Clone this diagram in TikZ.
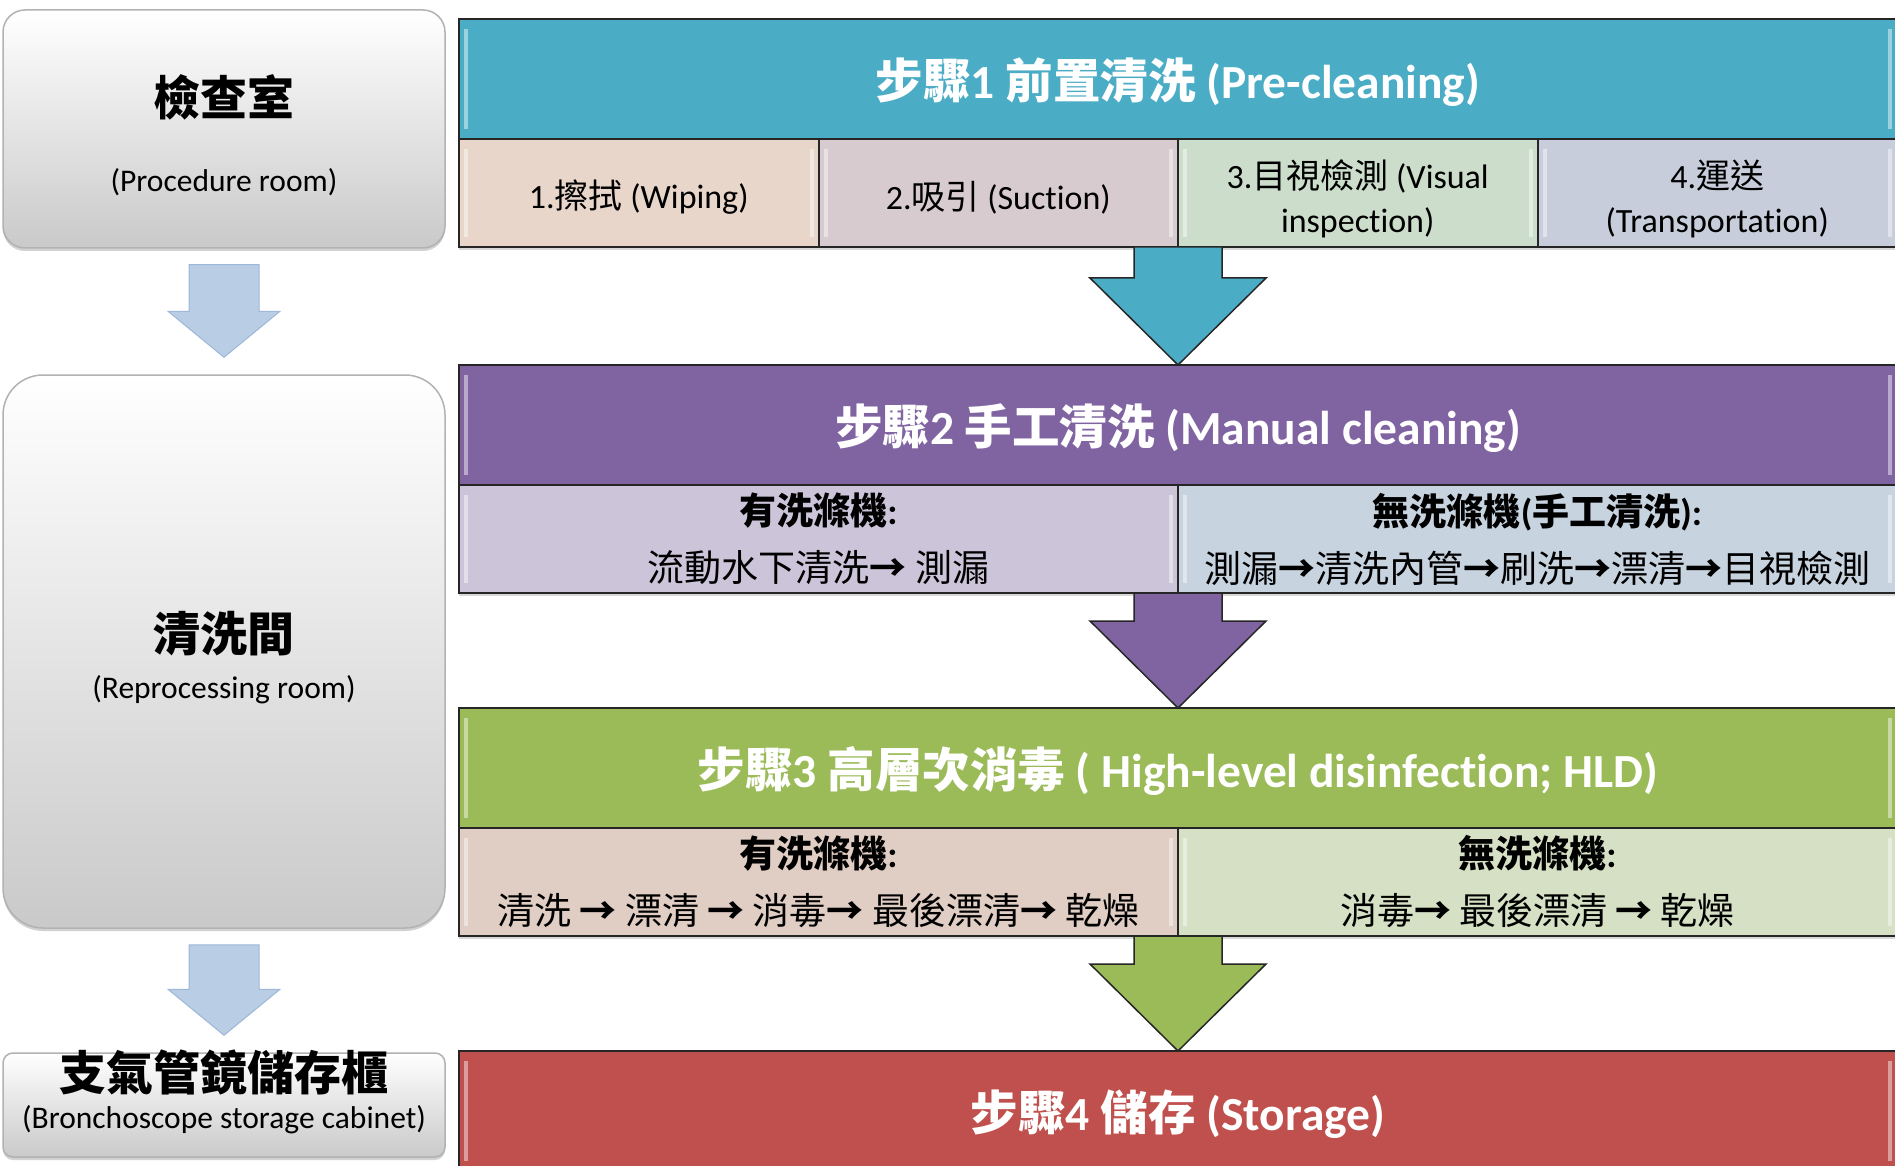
\documentclass[tikz,border=0pt]{standalone}
\usepackage{fontspec}
\setmainfont{Carlito}[Ligatures=NoCommon]
\newfontfamily\cjk{Noto Sans CJK TC}
\newcommand{\zh}[1]{{\cjk #1}}
\newcommand{\goes}{{\bfseries →}}
\usetikzlibrary{positioning, calc, shadows}
\definecolor{stepteal}{HTML}{4BACC6}
\definecolor{steppurple}{HTML}{8064A2}
\definecolor{stepgreen}{HTML}{9BBB59}
\definecolor{stepred}{HTML}{C0504D}
\definecolor{wipecell}{HTML}{E8D6CB}
\definecolor{suctcell}{HTML}{D8CBD0}
\definecolor{viscell}{HTML}{CCDDCB}
\definecolor{transcell}{HTML}{C8CDDB}
\definecolor{mwashcell}{HTML}{CCC4D9}
\definecolor{mhandcell}{HTML}{C8D3E0}
\definecolor{hwashcell}{HTML}{E0CDC4}
\definecolor{hhandcell}{HTML}{D5E0C5}
\definecolor{roomarrow}{HTML}{B9CDE5}
\definecolor{roomarrowline}{HTML}{9DB7D9}
\tikzset{
  bevel/.style={path picture={
      \fill[white, opacity=0.45] ($(path picture bounding box.north west)+(5,10)$) rectangle ($(path picture bounding box.south west)+(9,-10)$);
      \fill[white, opacity=0.45] ($(path picture bounding box.north east)+(-9,10)$) rectangle ($(path picture bounding box.south east)+(-5,-10)$);
  }},
  textdrop/.style={execute at begin node={\rule{0pt}{#1}}},
  room/.style={rectangle, draw=black!30, line width=1.5pt, top color=white, bottom color=black!21,
               minimum width=442pt, drop shadow={opacity=0.35, shadow xshift=0pt, shadow yshift=-3pt}},
  roomzh/.style={font=\cjk\bfseries\fontsize{47}{56}\selectfont, inner sep=0pt},
  roomen/.style={font=\fontsize{31.5}{38}\selectfont, inner sep=0pt},
  head/.style={rectangle, draw=black!85, line width=2pt, outer sep=0pt, minimum width=1438pt, minimum height=120pt,
               text=white, font=\bfseries\fontsize{47.5}{57}\selectfont, anchor=north west, bevel, textdrop=48pt},
  cell/.style={rectangle, draw=black!85, line width=2pt, outer sep=0pt, inner sep=0pt, minimum height=108pt, align=center,
               font=\fontsize{34}{44}\selectfont, bevel, drop shadow={opacity=0.3, shadow xshift=0pt, shadow yshift=-3pt}},
  cellq/.style={cell, minimum width=359.5pt},
  cellh/.style={cell, minimum width=719pt, font=\fontsize{37}{57}\selectfont},
  bigarrow/.style={draw=black!85, line width=1.5pt, line join=miter},
  smallarrow/.style={draw=roomarrowline, fill=roomarrow, line width=1pt},
}
\begin{document}
\begin{tikzpicture}[x=1pt, y=-1pt]
  \useasboundingbox[fill=white] (0,0) rectangle (1895,1166);
  % rooms on the left
  \node[room, rounded corners=22pt, minimum height=238pt] (proc) at (224,129) {};
  \node[roomzh] (proczh) at (224,97) {檢查室};
  \node[roomen] (procen) at (224,182) {(Procedure room)};
  \node[room, rounded corners=40pt, minimum height=553pt] (repro) at (224,651.5) {};
  \node[roomzh] (reprozh) at (224,634) {清洗間};
  \node[roomen] (reproen) at (224,690) {(Reprocessing room)};
  \node[room, rounded corners=10pt, minimum height=104pt] (cabinet) at (224,1105) {};
  \node[roomzh] (cabinetzh) at (224,1072) {支氣管鏡儲存櫃};
  \node[roomen] (cabineten) at (224,1120) {(Bronchoscope storage cabinet)};
  \foreach \from/\to in {proc/repro, repro/cabinet}
    \draw[smallarrow] let \p1=(\from.south), \p2=(\to.north) in
      (\x1-35pt,\y1-16pt) -- (\x1+35pt,\y1-16pt) -- (\x1+35pt,\y2+63pt) -- (\x1+56pt,\y2+63pt)
      -- (\x2,\y2+17pt) -- (\x1-56pt,\y2+63pt) -- (\x1-35pt,\y2+63pt) -- cycle;
  % step 1
  \node[head, fill=stepteal] (pre) at (459,19) {\zh{步驟}1 \zh{前置清洗} (Pre-cleaning)};
  \node[cellq, fill=wipecell, textdrop=37pt, below right=0pt of pre.south west] (pre1) {1.\zh{擦拭} (Wiping)};
  \node[cellq, fill=suctcell, textdrop=37pt, right=0pt of pre1] (pre2) {2.\zh{吸引} (Suction)};
  \node[cellq, fill=viscell, textdrop=85pt, right=0pt of pre2] (pre3) {3.\zh{目視檢測} (Visual\\inspection)};
  \node[cellq, fill=transcell, textdrop=85pt, right=0pt of pre3] (pre4) {4.\zh{運送}\\(Transportation)};
  % step 2
  \node[head, fill=steppurple] (manual) at (459,365) {\zh{步驟}2 \zh{手工清洗} (Manual cleaning)};
  \node[cellh, fill=mwashcell, below right=0pt of manual.south west] (manualA)
    {\textbf{\zh{有洗滌機}:}\\\zh{流動水下清洗\goes{} 測漏}};
  \node[cellh, fill=mhandcell, right=0pt of manualA] (manualB)
    {\textbf{\zh{無洗滌機}(\zh{手工清洗}):}\\\zh{測漏\goes{}清洗內管\goes{}刷洗\goes{}漂清\goes{}目視檢測}};
  % step 3
  \node[head, fill=stepgreen] (hld) at (459,708) {\zh{步驟}3 \zh{高層次消毒} ( High-level disinfection; HLD)};
  \node[cellh, fill=hwashcell, below right=0pt of hld.south west] (hldA)
    {\textbf{\zh{有洗滌機}:}\\\zh{清洗 \goes{} 漂清 \goes{} 消毒\goes{} 最後漂清\goes{} 乾燥}};
  \node[cellh, fill=hhandcell, right=0pt of hldA] (hldB)
    {\textbf{\zh{無洗滌機}:}\\\zh{消毒\goes{} 最後漂清 \goes{} 乾燥}};
  % step 4
  \node[head, fill=stepred] (store) at (459,1051) {\zh{步驟}4 \zh{儲存} (Storage)};
  \foreach \from/\to/\col in {pre2.south east/manual.north/stepteal,
                              manualA.south east/hld.north/steppurple,
                              hldA.south east/store.north/stepgreen}
    \draw[bigarrow, fill=\col] let \p1=(\from), \p2=(\to) in
      (\x1-44pt,\y1) -- (\x1+44pt,\y1) -- (\x1+44pt,\y2+87pt) -- (\x1+88pt,\y2+87pt)
      -- (\x2,\y2) -- (\x1-88pt,\y2+87pt) -- (\x1-44pt,\y2+87pt) -- cycle;
\end{tikzpicture}
\end{document}
